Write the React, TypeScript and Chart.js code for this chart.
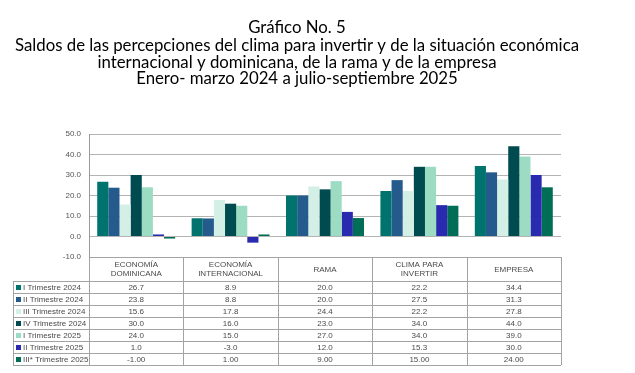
import React, { useEffect, useRef } from "react";
import { Chart, registerables } from "chart.js";

Chart.register(...registerables);

const titleLines = [
  "Gráfico No. 5",
  "Saldos de las percepciones del clima para invertir y de la situación económica",
  "internacional y dominicana, de la rama y de la empresa",
  "Enero- marzo 2024 a julio-septiembre 2025",
];

const categories = [
  ["ECONOMÍA", "DOMINICANA"],
  ["ECONOMÍA", "INTERNACIONAL"],
  ["RAMA"],
  ["CLIMA PARA", "INVERTIR"],
  ["EMPRESA"],
];

const seriesNames = [
  "I Trimestre 2024",
  "II Trimestre 2024",
  "III Trimestre 2024",
  "IV Trimestre 2024",
  "I Trimestre 2025",
  "II Trimestre 2025",
  "III* Trimestre 2025",
];

const t1_2024 = [26.7, 8.9, 20.0, 22.2, 34.4];
const t2_2024 = [23.8, 8.8, 20.0, 27.5, 31.3];
const t3_2024 = [15.6, 17.8, 24.4, 22.2, 27.8];
const t4_2024 = [30.0, 16.0, 23.0, 34.0, 44.0];
const t1_2025 = [24.0, 15.0, 27.0, 34.0, 39.0];
const t2_2025 = [1.0, -3.0, 12.0, 15.3, 30.0];
const t3_2025 = [-1.0, 1.0, 9.0, 15.0, 24.0];

const seriesValues = [t1_2024, t2_2024, t3_2024, t4_2024, t1_2025, t2_2025, t3_2025];
const tableDecimals = [1, 1, 1, 1, 1, 1, 2];

const yTicks = [-10, 0, 10, 20, 30, 40, 50];

const colors = ["#00736f", "#255b8c", "#d4efe5", "#004b50", "#9cdcc3", "#2a2ab0", "#006e56"];

const tablePlugin = {
  id: "tablePlugin",
  afterDraw(chart: any) {
    const ctx = chart.ctx as CanvasRenderingContext2D;
    const area = chart.chartArea;
    const xs = chart.scales.x;
    const n = categories.length;
    const half = (xs.getPixelForValue(1) - xs.getPixelForValue(0)) / 2;
    const edges: number[] = [];
    for (let i = 0; i < n; i++) edges.push(xs.getPixelForValue(i) - half);
    edges.push(xs.getPixelForValue(n - 1) + half);

    const top = area.bottom;
    const headerH = 24;
    const rowH = 12;
    const rowsTop = top + headerH;
    const bottom = rowsTop + rowH * seriesNames.length;
    const legLeft = 13;

    ctx.save();
    // title
    ctx.fillStyle = "#000";
    ctx.font = "16.8px Lato";
    ctx.textAlign = "center";
    ctx.textBaseline = "alphabetic";
    const baselines = [33, 51, 67.5, 84];
    titleLines.forEach((t, i) => ctx.fillText(t, 297, baselines[i]));

    // lines
    ctx.strokeStyle = "#a3a3a3";
    ctx.lineWidth = 1;
    ctx.beginPath();
    edges.forEach((x) => {
      const px = Math.round(x) + 0.5;
      ctx.moveTo(px, top);
      ctx.lineTo(px, bottom);
    });
    ctx.moveTo(legLeft + 0.5, rowsTop);
    ctx.lineTo(legLeft + 0.5, bottom);
    ctx.moveTo(edges[0], Math.round(top) + 0.5);
    ctx.lineTo(edges[n], Math.round(top) + 0.5);
    for (let r = 0; r <= seriesNames.length; r++) {
      const py = Math.round(rowsTop + r * rowH) + 0.5;
      ctx.moveTo(legLeft, py);
      ctx.lineTo(edges[n], py);
    }
    ctx.stroke();

    // header text
    ctx.fillStyle = "#4a4a4a";
    ctx.font = "8px 'Liberation Sans'";
    ctx.textAlign = "center";
    ctx.textBaseline = "middle";
    categories.forEach((lines, i) => {
      const cx = (edges[i] + edges[i + 1]) / 2;
      const cy = top + headerH / 2;
      if (lines.length === 1) ctx.fillText(lines[0], cx, cy + 0.5);
      else {
        ctx.fillText(lines[0], cx, cy - 4.5);
        ctx.fillText(lines[1], cx, cy + 4.5);
      }
    });

    // rows
    seriesNames.forEach((name, r) => {
      const cy = rowsTop + r * rowH + rowH / 2 + 0.5;
      ctx.fillStyle = colors[r];
      ctx.fillRect(16, Math.round(cy - 3), 5, 5);
      ctx.fillStyle = "#4a4a4a";
      ctx.textAlign = "left";
      ctx.fillText(name, 23, cy);
      ctx.textAlign = "center";
      seriesValues[r].forEach((v, i) => {
        const cx = (edges[i] + edges[i + 1]) / 2;
        ctx.fillText(v.toFixed(tableDecimals[r]), cx, cy);
      });
    });
    ctx.restore();
  },
};

export default function App() {
  const ref = useRef<HTMLCanvasElement | null>(null);
  useEffect(() => {
    if (!ref.current) return;
    const chart = new Chart(ref.current, {
      type: "bar",
      data: {
        labels: categories.map((c) => c.join(" ")),
        datasets: seriesNames.map((name, i) => ({
          label: name,
          data: seriesValues[i],
          backgroundColor: colors[i],
          borderWidth: 0,
          categoryPercentage: 0.826,
          barPercentage: 1,
        })),
      },
      options: {
        animation: false,
        responsive: false,
        devicePixelRatio: 1,
        layout: { padding: { left: 0, right: 74, top: 134, bottom: 116 } },
        plugins: {
          legend: { display: false },
          title: { display: false },
          tooltip: { enabled: false },
        },
        scales: {
          x: {
            display: false,
          },
          y: {
            min: -10,
            max: 50,
            afterFit: (s: any) => {
              s.width = 89;
            },
            afterBuildTicks: (s: any) => {
              s.ticks = yTicks.map((v) => ({ value: v }));
            },
            ticks: {
              callback: (v: any) => Number(v).toFixed(1),
              font: { family: "'Liberation Sans'", size: 8 },
              color: "#555",
              padding: 8,
            },
            grid: { color: "#b4b4b4", drawTicks: false },
            border: { display: true, color: "#999" },
          },
        },
      },
      plugins: [tablePlugin],
    });
    return () => chart.destroy();
  }, []);
  return (
    <div style={{ position: "absolute", left: 0, top: 0, width: 635, height: 373, background: "#fff" }}>
      <canvas ref={ref} width={635} height={373} />
    </div>
  );
}
